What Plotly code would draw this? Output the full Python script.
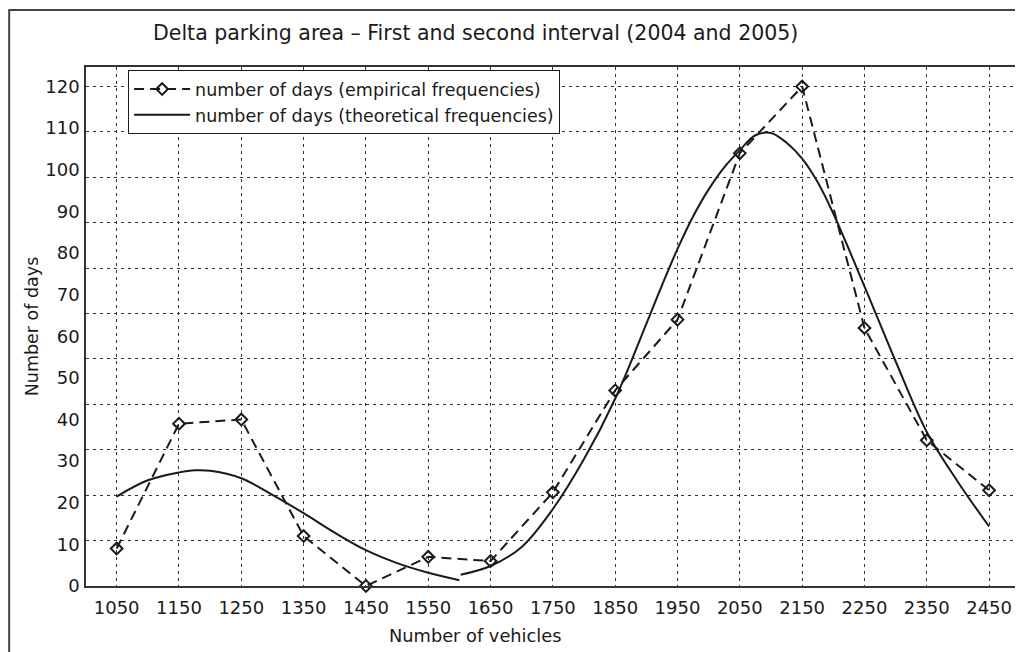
import plotly.graph_objects as go

# ---- data ----
vehicles = [1050, 1150, 1250, 1350, 1450, 1550, 1650, 1750, 1850, 1950, 2050, 2150, 2250, 2350, 2450]
empirical_days = [9, 39, 40, 12, 0, 7, 6, 22.5, 47, 64, 104, 120, 62, 35, 23]

theory1_x = [1050, 1100, 1150, 1175, 1200, 1250, 1300, 1350, 1400, 1450, 1500, 1550, 1600]
theory1_y = [21.5, 25.4, 27.3, 27.8, 27.7, 25.9, 21.9, 17.5, 12.8, 8.6, 5.5, 3.2, 1.4]

theory2_x = [1602, 1650, 1700, 1750, 1800, 1850, 1900, 1925, 1950, 1975, 2000, 2025, 2050, 2075, 2100,
             2125, 2150, 2175, 2200, 2250, 2300, 2350, 2400, 2450]
theory2_y = [2.7, 4.8, 9.4, 18.5, 30.5, 45, 63.0, 72.2, 81.0, 88.8, 95.3, 100.6, 104.7, 108.3, 108.85,
             106.5, 102.7, 97.0, 89.5, 72, 54, 37, 25, 14.3]

y_tick_values = list(range(0, 130, 10))
n_grid_rows = 11  # horizontal grid lines in the original are not aligned with the labels

title_text = "Delta parking area \u2013 First and second interval (2004 and 2005)"
x_title = "Number of vehicles"
y_title = "Number of days"
name_emp = "number of days (empirical frequencies)"
name_theo = "number of days (theoretical frequencies)"

FONT = "DejaVu Sans, Liberation Sans, Arial, sans-serif"
INK = "#1a1a1a"
GRID = "#333333"

# page offset: the browser body has an 8px margin
OFF = 8
W, H = 1023 - OFF, 652 - OFF
PL, PT, PR, PB = 86 - OFF, 67 - OFF, 1, 66
PW = W - PL - PR
PH = H - PT - PB

fig = go.Figure()

fig.add_trace(go.Scatter(
    x=vehicles, y=empirical_days, name=name_emp, mode="lines+markers",
    line=dict(color=INK, width=2, dash="10px,6px"),
    marker=dict(symbol="diamond-open", size=9, color=INK, line=dict(width=2, color=INK)),
    cliponaxis=False,
))
fig.add_trace(go.Scatter(
    x=theory1_x, y=theory1_y, name=name_theo, mode="lines",
    line=dict(color=INK, width=2, shape="spline", smoothing=1.0),
    legendgroup="theo",
))
fig.add_trace(go.Scatter(
    x=theory2_x, y=theory2_y, name=name_theo, mode="lines",
    line=dict(color=INK, width=2, shape="spline", smoothing=1.0),
    legendgroup="theo", showlegend=False,
))

y_max = 124.7
grid_vals = [120 * k / n_grid_rows for k in range(n_grid_rows + 1)]


def px_x(page_x):
    return (page_x - 86) / PW


def px_y(page_y):
    return (586 - page_y) / PH


fig.update_layout(
    width=W, height=H,
    margin=dict(l=PL, r=PR, t=PT, b=PB),
    paper_bgcolor="white", plot_bgcolor="white",
    font=dict(family=FONT, size=18, color=INK),
    title=dict(text=title_text, x=px_x(476.5), xref="paper", xanchor="center",
               y=1 - (33 - OFF) / H, yref="container", yanchor="middle",
               font=dict(size=20.5, family=FONT, color=INK)),
    showlegend=True,
    legend=dict(x=px_x(128), y=px_y(70), xanchor="left", yanchor="top",
                bgcolor="white", bordercolor=INK, borderwidth=1.2,
                font=dict(size=17.5, family=FONT, color=INK),
                tracegroupgap=0, itemwidth=56),
    xaxis=dict(
        range=[1000.8, 2499.6], tickmode="array", tickvals=vehicles,
        ticktext=[str(v) for v in vehicles],
        showgrid=True, gridcolor=GRID, gridwidth=1.2, griddash="3px,4px",
        showline=True, linecolor="#333", linewidth=1.5, mirror=True,
        ticks="outside", ticklen=5, tickcolor="rgba(0,0,0,0)",
        tickfont=dict(size=18), zeroline=False,
    ),
    yaxis=dict(
        range=[0, y_max], tickmode="array", tickvals=y_tick_values,
        showgrid=False, zeroline=False,
        showline=True, linecolor="#333", linewidth=1.5, mirror=True,
        ticks="outside", ticklen=1, tickcolor="rgba(0,0,0,0)",
        tickfont=dict(size=18),
        title=dict(text=y_title, font=dict(size=17.5), standoff=2),
    ),
    yaxis2=dict(
        range=[0, y_max], overlaying="y", side="left", tickmode="array",
        tickvals=grid_vals, showticklabels=False, ticks="",
        showgrid=True, gridcolor=GRID, gridwidth=1.2, griddash="3px,4px",
        zeroline=False, showline=False,
    ),
)

# invisible trace so that yaxis2 (grid only) renders
fig.add_trace(go.Scatter(x=[None], y=[None], yaxis="y2", showlegend=False, hoverinfo="skip"))

fig.add_annotation(text=x_title, xref="paper", yref="paper",
                   x=px_x(476), y=px_y(635),
                   xanchor="center", yanchor="middle", showarrow=False,
                   font=dict(size=17.8, family=FONT, color=INK))

# outer frame of the original figure (runs off the right and bottom edges)
fig.add_shape(type="rect", xref="paper", yref="paper",
              x0=px_x(9), x1=px_x(1040),
              y0=px_y(680), y1=px_y(10),
              line=dict(color="#444", width=2), fillcolor="rgba(0,0,0,0)", layer="below")

fig.write_html("out.html")
